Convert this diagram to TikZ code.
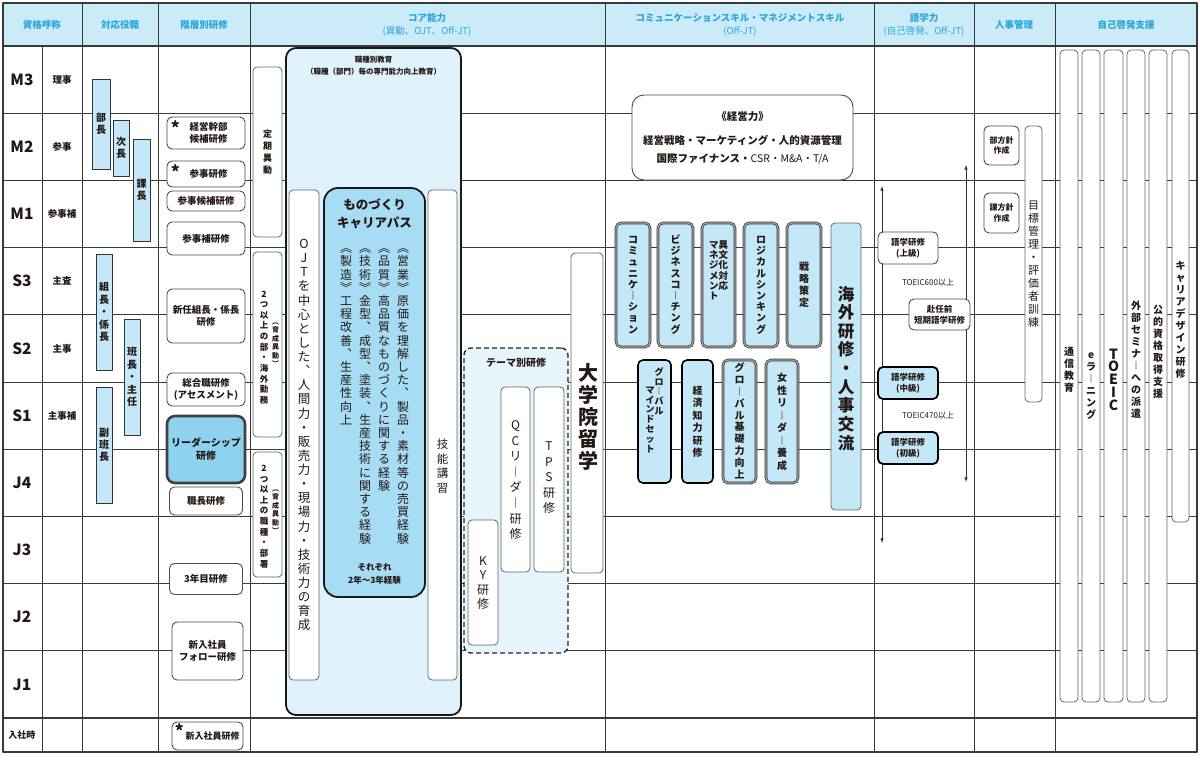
\documentclass[tikz,border=0pt]{standalone}
\usepackage{fontspec}
\setmainfont{Noto Sans CJK JP}
\usetikzlibrary{positioning}

\definecolor{hdrfill}{HTML}{CCEBF8}
\definecolor{hdrtext}{HTML}{2AA5DD}
\definecolor{barblue}{HTML}{C4E8F8}
\definecolor{panelblue}{HTML}{E0F2FB}
\definecolor{monoblue}{HTML}{A6DCF4}
\definecolor{leadblue}{HTML}{8ED2F0}
\definecolor{themeblue}{HTML}{E6F4FC}
\definecolor{gridline}{HTML}{3A3A3A}
\definecolor{inkdark}{HTML}{231815}

% vertical (tate) text: one glyph per line
\ExplSyntaxOn
\dim_new:N \l__vt_pitch_dim
\cs_new:Npn \__vt_glyph:n #1
  {
    \str_case:nnF {#1}
      {
        {ー}{︱}
        {、}{︑}
        {《}{︽}
        {》}{︾}
        {（}{︵}
        {）}{︶}
        {(}{︵}
        {)}{︶}
      }
      {#1}
  }
\NewDocumentCommand \vt { O{1.15} m }
  {
    \vtop
      {
        \offinterlineskip
        \dim_set:Nn \l__vt_pitch_dim { #1 em }
        \tl_map_inline:nn {#2}
          {
            \hbox_to_wd:nn { 1em }
              {
                \hss
                \vrule height .8\l__vt_pitch_dim depth .2\l__vt_pitch_dim width 0pt
                \smash { \__vt_glyph:n {##1} }
                \hss
              }
          }
      }
  }
\ExplSyntaxOff

\begin{document}
\begin{tikzpicture}[x=1pt,y=-1pt,>=latex,line join=round,
  grid/.style={draw=gridline,line width=0.7pt},
  hdr/.style={text=hdrtext,font=\bfseries\fontsize{9.5}{12.5}\selectfont,align=center,inner sep=0pt},
  rank/.style={text=inkdark,font=\bfseries\fontsize{15.5}{15.5}\selectfont},
  post/.style={text=inkdark,font=\bfseries\fontsize{9.5}{11}\selectfont},
  vtxt/.style={text=inkdark,inner sep=0pt},
  yakubar/.style={draw=black!80,fill=barblue,line width=0.7pt,inner sep=0pt,text=inkdark,
    font=\bfseries\fontsize{10}{10}\selectfont},
  kenshu/.style={draw=black!70,fill=white,rounded corners=5pt,line width=0.9pt,inner sep=0pt,
    align=center,text=inkdark,font=\bfseries\fontsize{9.5}{12}\selectfont},
  leader/.style={kenshu,fill=leadblue,draw=black!75,line width=2.6pt,rounded corners=8pt,
    font=\bfseries\fontsize{10}{13}\selectfont},
  ast/.style={inner sep=0pt,text=inkdark,font=\bfseries\fontsize{17}{17}\selectfont},
  slim/.style={draw=black!60,fill=white,rounded corners=4pt,line width=0.8pt,inner sep=0pt},
  panel/.style={draw=black!90,fill=panelblue,rounded corners=10pt,line width=1.8pt,inner sep=0pt},
  mono/.style={draw=black!90,fill=monoblue,rounded corners=14pt,line width=1.8pt,inner sep=0pt},
  theme/.style={draw=black!85,fill=themeblue,rounded corners=7pt,line width=1.4pt,
    dash pattern=on 5pt off 3pt,inner sep=0pt},
  dbl/.style={draw=black!80,double=black!35,double distance=1.2pt,line width=0.7pt,
    fill=barblue,rounded corners=5pt,inner sep=0pt,text=inkdark,font=\bfseries\fontsize{10}{10}\selectfont},
  blk/.style={draw=black,line width=1.6pt,fill=barblue,rounded corners=5pt,inner sep=0pt,
    text=inkdark,font=\bfseries\fontsize{10}{10}\selectfont},
  lang/.style={kenshu,font=\bfseries\fontsize{8.5}{11}\selectfont},
  langstrong/.style={lang,draw=black,line width=1.8pt,fill=barblue},
  hr/.style={kenshu,font=\bfseries\fontsize{8}{10.5}\selectfont},
  selfbar/.style={draw=black!60,fill=white,rounded corners=4pt,line width=0.8pt,inner sep=0pt},
]
\useasboundingbox (0,0) rectangle (1200,760);

% header band and grid
\fill[hdrfill] (3,3) rectangle (1197,46);
\foreach \k in {1,...,9}
  \draw[grid] (3,{46+67.2*\k}) -- (1197,{46+67.2*\k});
\foreach \x in {82,158,250,605,874,974,1055}
  \draw[grid] (\x,3) -- (\x,752);
\draw[grid] (42,46) -- (42,752);
\draw[gridline,line width=1.3pt] (3,46) -- (1197,46);
\draw[gridline,line width=1.3pt] (3,718) -- (1197,718);

% header
\node[hdr] (h-shikaku) at (42,25) {資格呼称};
\node[hdr] (h-yakushoku) at (120,25) {対応役職};
\node[hdr] (h-kaiso) at (204,25) {階層別研修};
\node[hdr] (h-core) at (427,25) {コア能力\\{\mdseries (異動、OJT、Off-JT)}};
\node[hdr] (h-comm) at (740,25) {コミュニケーションスキル・マネジメントスキル\\{\mdseries (Off-JT)}};
\node[hdr] (h-gogaku) at (924,25) {語学力\\{\mdseries (自己啓発、Off-JT)}};
\node[hdr] (h-jinji) at (1014,25) {人事管理};
\node[hdr] (h-jiko) at (1126,25) {自己啓発支援};

% ranks and posts
\foreach \lab [count=\i from 0] in {M3,M2,M1,S3,S2,S1,J4,J3,J2,J1}
  \node[rank] (rank\i) at (22,{79.6+67.2*\i}) {\lab};
\foreach \lab [count=\i from 0] in {理事,参事,参事補,主査,主事,主事補}
  \node[post] (post\i) at (62,{79.6+67.2*\i}) {\lab};
\node[post,font=\bfseries\fontsize{9}{9}\selectfont] (nyusha) at (22,735) {入社時};

% positions
\node[yakubar,minimum width=18,minimum height=90] (bucho) at (101,124) {\vt[1.2]{部長}};
\node[yakubar,minimum width=16,minimum height=56] (jicho) at (121,148) {\vt[1.2]{次長}};
\node[yakubar,minimum width=17,minimum height=102] (kacho) at (141.5,190) {\vt[1.2]{課長}};
\node[yakubar,minimum width=16,minimum height=116] (kumicho) at (104,312) {\vt[1.25]{組長・係長}};
\node[yakubar,minimum width=16,minimum height=116] (hancho) at (132,377) {\vt[1.25]{班長・主任}};
\node[yakubar,minimum width=16,minimum height=116] (fukuhan) at (104,445) {\vt[1.2]{副班長}};

% rank-based training
\node[kenshu,minimum width=78,minimum height=32] (keiei) at (206,133) {\hspace*{5pt}経営幹部\\\hspace*{5pt}候補研修};
\node[ast,anchor=north west] (keiei-ast) at ([shift={(4,4)}]keiei.north west) {*};
\node[kenshu,minimum width=78,minimum height=26] (sanji) at (206,174) {\hspace*{5pt}参事研修};
\node[ast,anchor=north west] (sanji-ast) at ([shift={(4,3.5)}]sanji.north west) {*};
\node[kenshu,minimum width=78,minimum height=20] (sanjikoho) at (206,201) {参事候補研修};
\node[kenshu,minimum width=78,minimum height=33] (sanjiho) at (206,238.5) {参事補研修};
\node[kenshu,minimum width=78,minimum height=54] (shinnin) at (206,316) {新任組長・係長\\研修};
\node[kenshu,minimum width=78,minimum height=33] (sogo) at (206,389.5) {総合職研修\\(アセスメント)};
\node[leader,minimum width=78,minimum height=67] (leadership) at (206,449.5) {リーダーシップ\\研修};
\node[kenshu,minimum width=73,minimum height=28] (shokucho) at (206,501) {職長研修};
\node[kenshu,minimum width=73,minimum height=31] (sannen) at (206,579) {3年目研修};
\node[kenshu,minimum width=71,minimum height=58] (follow) at (207.5,651) {新入社員\\フォロー研修};
\node[kenshu,minimum width=71,minimum height=28,font=\bfseries\fontsize{9}{11}\selectfont]
  (shinnyu) at (207.5,736) {\hspace*{10pt}新入社員研修};
\node[ast,anchor=north west] (shinnyu-ast) at ([shift={(3,2)}]shinnyu.north west) {*};

% core ability
\node[slim,minimum width=29,minimum height=170] (teiki) at (267.5,152) {};
\node[vtxt,font=\bfseries\fontsize{9}{9}\selectfont] (teiki-txt) at (teiki) {\vt[1.3]{定期異動}};
\node[slim,minimum width=29,minimum height=185] (ikusei1) at (267.5,344.5) {};
\node[vtxt,font=\bfseries\fontsize{8.5}{8.5}\selectfont] (ikusei1-a) at (264,347) {\vt[1.25]{2つ以上の部・海外勤務}};
\node[vtxt,font=\bfseries\fontsize{7}{7}\selectfont] (ikusei1-b) at (275.5,343) {\vt[1.2]{(育成異動)}};
\node[slim,minimum width=29,minimum height=125] (ikusei2) at (267.5,514.5) {};
\node[vtxt,font=\bfseries\fontsize{8.5}{8.5}\selectfont] (ikusei2-a) at (264,516) {\vt[1.25]{2つ以上の職種・部署}};
\node[vtxt,font=\bfseries\fontsize{7}{7}\selectfont] (ikusei2-b) at (275.5,510) {\vt[1.2]{(育成異動)}};

\node[panel,minimum width=175,minimum height=667] (shokushu) at (373.5,381.5) {};
\node[text=inkdark,font=\bfseries\fontsize{7.5}{12}\selectfont,align=center,inner sep=0pt] (shokushu-ttl)
  at (373.5,65.5) {職種別教育\\（職種（部門）毎の専門能力向上教育）};
\node[slim,minimum width=30,minimum height=490] (ojt) at (304,435) {};
\node[vtxt,font=\fontsize{12.5}{12.5}\selectfont] (ojt-txt) at (ojt)
  {\vt[1.13]{OJTを中心とした、人間力・販売力・現場力・技術力の育成}};
\node[mono,minimum width=101,minimum height=409] (monozukuri) at (374.5,392.5) {};
\node[text=inkdark,font=\bfseries\fontsize{12.5}{18}\selectfont,align=center,inner sep=0pt] (mono-ttl)
  at (374.5,214) {ものづくり\\キャリアパス};
\node[vtxt,anchor=north,font=\fontsize{12}{12}\selectfont] (mono-txt) at (374.5,242)
  {\vt[1.1]{《製造》工程改善、生産性向上}\hspace{7pt}%
   \vt[1.1]{《技術》金型、成型、塗装、生産技術に関する経験}\hspace{7pt}%
   \vt[1.1]{《品質》高品質なものづくりに関する経験}\hspace{7pt}%
   \vt[1.1]{《営業》原価を理解した、製品・素材等の売買経験}};
\node[text=inkdark,font=\bfseries\fontsize{8.5}{12.5}\selectfont,align=center,inner sep=0pt] (mono-note)
  at (374.5,574) {それぞれ\\2年〜3年経験};
\node[slim,minimum width=29,minimum height=490] (ginou) at (442.5,435) {};
\node[vtxt,font=\fontsize{11.5}{11.5}\selectfont] (ginou-txt) at (442.5,466) {\vt[1.3]{技能講習}};

\node[theme,minimum width=104,minimum height=305] (themebetsu) at (516,500.5) {};
\node[text=inkdark,font=\bfseries\fontsize{10}{10}\selectfont,inner sep=0pt] (theme-ttl) at (516,363) {テーマ別研修};
\node[slim,minimum width=30,minimum height=125] (ky) at (483,582.5) {};
\node[vtxt,font=\fontsize{12}{12}\selectfont] (ky-txt) at (ky) {\vt[1.2]{KY研修}};
\node[slim,minimum width=29,minimum height=185] (qc) at (515.5,479.5) {};
\node[vtxt,font=\fontsize{12}{12}\selectfont] (qc-txt) at (qc) {\vt[1.3]{QCリーダー研修}};
\node[slim,minimum width=30,minimum height=185] (tps) at (549,479.5) {};
\node[vtxt,font=\fontsize{12}{12}\selectfont] (tps-txt) at (549,477) {\vt[1.3]{TPS研修}};

\node[slim,minimum width=32,minimum height=320] (daigakuin) at (587,413) {};
\node[vtxt,font=\bfseries\fontsize{20}{20}\selectfont] (daigakuin-txt) at (588,418) {\vt[1.1]{大学院留学}};

% communication / management
\node[kenshu,rounded corners=12pt,minimum width=221,minimum height=85,
  font=\bfseries\fontsize{10.5}{18}\selectfont] (keieiryoku) at (742.5,137.5)
  {《経営力》\\[6pt]経営戦略・マーケティング・人的資源管理\\国際ファイナンス・{\mdseries CSR・M\&A・T/A}};
\node[dbl,minimum width=34,minimum height=124] (komyu) at (633,285) {\vt[1.12]{コミュニケーション}};
\node[dbl,minimum width=35,minimum height=124] (bizcoach) at (675.5,285) {\vt[1.12]{ビジネスコーチング}};
\node[dbl,minimum width=33,minimum height=124] (ibunka) at (718.5,285) {};
\node[vtxt,anchor=north,font=\bfseries\fontsize{9.5}{9.5}\selectfont] (ibunka-txt) at (718.5,240)
  {\vt[1.08]{マネジメント}\vt[1.08]{異文化対応}};
\node[dbl,minimum width=34,minimum height=124] (logical) at (761,285) {\vt[1.12]{ロジカルシンキング}};
\node[dbl,minimum width=34,minimum height=124] (senryaku) at (804,285) {\vt[1.2]{戦略策定}};
\node[slim,fill=barblue,minimum width=30,minimum height=287] (kaigai) at (846,366.5) {};
\node[vtxt,font=\bfseries\fontsize{16.5}{16.5}\selectfont] (kaigai-txt) at (846,369) {\vt[1.13]{海外研修・人事交流}};

\node[blk,minimum width=33,minimum height=123] (globalmind) at (654.5,421.5) {};
\node[vtxt,anchor=north,font=\bfseries\fontsize{9}{9}\selectfont] (globalmind-txt) at (654.5,367)
  {\raisebox{-18pt}{\vt[1.1]{マインドセット}}\vt[1.1]{グローバル}};
\node[blk,minimum width=31,minimum height=123] (keizai) at (697.5,421.5) {\vt[1.25]{経済知力研修}};
\node[dbl,minimum width=33,minimum height=123] (globalkiso) at (739.5,421.5) {\vt[1.18]{グローバル基礎力向上}};
\node[dbl,minimum width=32,minimum height=123] (josei) at (782,421.5) {\vt[1.25]{女性リーダー養成}};

% language
\coordinate (lang-top) at (882,186);
\coordinate (lang-bot) at (882,543);
\coordinate (haken-top) at (966,165);
\coordinate (haken-bot) at (966,482);
\draw[<->,line width=0.6pt,black!80] (lang-top) -- (lang-bot);
\draw[<->,line width=0.6pt,black!80] (haken-top) -- (haken-bot);
\node[lang,minimum width=60,minimum height=32] (jokyu) at (908,248) {語学研修\\(上級)};
\node[text=inkdark,font=\fontsize{8}{8}\selectfont,inner sep=0pt] (toeic600) at (928,283) {TOEIC600以上};
\node[lang,minimum width=61,minimum height=31] (funin) at (939.5,314.5) {赴任前\\短期語学研修};
\node[langstrong,minimum width=60,minimum height=32] (chukyu) at (908,383) {語学研修\\(中級)};
\node[text=inkdark,font=\fontsize{8}{8}\selectfont,inner sep=0pt] (toeic470) at (928,416) {TOEIC470以上};
\node[langstrong,minimum width=60,minimum height=32] (shokyu) at (908,448) {語学研修\\(初級)};

% personnel management
\node[hr,minimum width=35,minimum height=39] (buhoshin) at (1001.5,145.5) {部方針\\作成};
\node[hr,minimum width=35,minimum height=40] (kahoshin) at (1001.5,213) {課方針\\作成};
\node[slim,minimum width=17,minimum height=276] (mokuhyo) at (1033.5,264) {};
\node[vtxt,font=\fontsize{11}{11}\selectfont] (mokuhyo-txt) at (mokuhyo) {\vt[1.18]{目標管理・評価者訓練}};

% self development
\node[selfbar,minimum width=18,minimum height=652] (tsushin) at (1069,376) {};
\node[selfbar,minimum width=18,minimum height=652] (elearn) at (1091,376) {};
\node[selfbar,minimum width=19,minimum height=652] (toeic) at (1113.5,376) {};
\node[selfbar,minimum width=18,minimum height=652] (gaibu) at (1136,376) {};
\node[selfbar,minimum width=18,minimum height=652] (koteki) at (1158,376) {};
\node[selfbar,minimum width=17,minimum height=472] (career) at (1180.5,286) {};
\node[vtxt,font=\bfseries\fontsize{10}{10}\selectfont] (tsushin-txt) at (1069,370) {\vt[1.2]{通信教育}};
\node[vtxt,font=\bfseries\fontsize{10}{10}\selectfont] (elearn-txt) at (1091,385) {\vt[1.2]{eラーニング}};
\node[vtxt,font=\bfseries\fontsize{14}{14}\selectfont] (toeic-txt) at (1113.5,381) {\vt[0.92]{TOEIC}};
\node[vtxt,font=\bfseries\fontsize{10}{10}\selectfont] (gaibu-txt) at (1136,360) {\vt[1.2]{外部セミナーへの派遣}};
\node[vtxt,font=\bfseries\fontsize{10}{10}\selectfont] (koteki-txt) at (1158,352) {\vt[1.2]{公的資格取得支援}};
\node[vtxt,font=\bfseries\fontsize{10}{10}\selectfont] (career-txt) at (1180.5,320) {\vt[1.2]{キャリアデザイン研修}};

% frame
\draw[gridline,line width=1.6pt] (3,3) rectangle (1197,752);
\end{tikzpicture}
\end{document}
